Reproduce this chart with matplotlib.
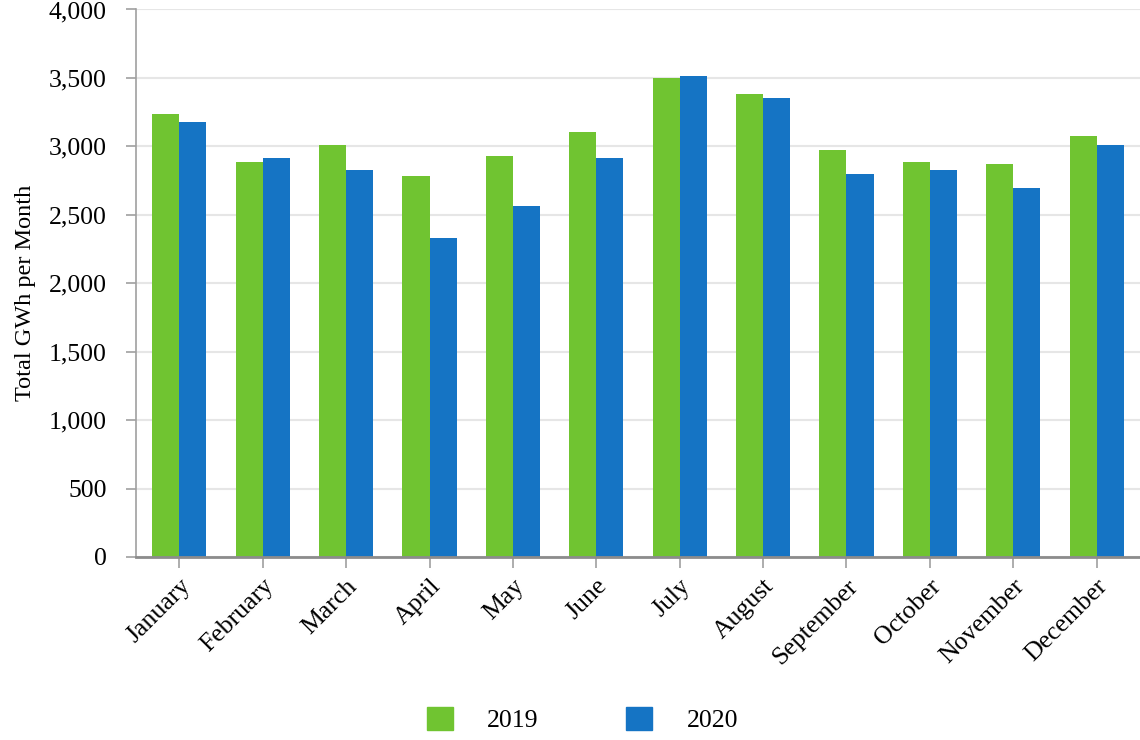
import numpy as np
import matplotlib.pyplot as plt
import matplotlib.transforms as mtransforms
from matplotlib.patches import Patch

# monthly totals
months = ['January', 'February', 'March', 'April', 'May', 'June',
          'July', 'August', 'September', 'October', 'November', 'December']
gwh_2019 = [3234, 2883, 3013, 2781, 2927, 3102, 3497, 3380, 2971, 2883, 2869, 3073]
gwh_2020 = [3175, 2912, 2825, 2328, 2562, 2912, 3511, 3351, 2796, 2825, 2693, 3013]
years = ['2019', '2020']

green = '#70c431'
blue = '#1574c4'

plt.rcParams['font.family'] = ['Liberation Serif', 'DejaVu Serif']
plt.rcParams['font.size'] = 18.5

fig = plt.figure(figsize=(11.4, 7.4), dpi=100)
ax = fig.add_axes([0.1193, 0.2473, 0.8807, 0.7399])

x = np.arange(len(months))
w = 0.325
ax.bar(x - w / 2, gwh_2019, width=w, color=green, zorder=2)
ax.bar(x + w / 2, gwh_2020, width=w, color=blue, zorder=2)

ax.set_xlim(-0.52, 11.52)
ax.set_ylim(0, 4000)
ax.set_yticks(np.arange(0, 4001, 500))
ax.set_yticklabels([f'{v:,}' for v in range(0, 4001, 500)])
ax.grid(axis='y', color='#e6e6e6', linewidth=1.5, zorder=0)

ax.set_xticks(x)
ax.set_xticklabels(months, rotation=45, ha='right', va='top', rotation_mode='anchor')
# nudge the rotated labels a little to the left
shift = mtransforms.ScaledTranslation(-5 / 100, -2 / 100, fig.dpi_scale_trans)
for lbl in ax.get_xticklabels():
    lbl.set_transform(lbl.get_transform() + shift)

for side in ['top', 'right']:
    ax.spines[side].set_visible(False)
ax.spines['left'].set_color('#a0a0a0')
ax.spines['left'].set_linewidth(1.2)
ax.spines['bottom'].set_color('#8c8c8c')
ax.spines['bottom'].set_linewidth(2)
ax.tick_params(axis='y', length=7, width=1.2, color='#a0a0a0', pad=14)
ax.tick_params(axis='x', length=8, width=1.2, color='#a0a0a0', pad=5)

ax.set_ylabel('Total GWh per Month', fontsize=17.5)
ax.yaxis.set_label_coords(-0.1, 0.482)

handles = [Patch(color=green), Patch(color=blue)]
fig.legend(handles, years, loc='center', bbox_to_anchor=(0.511, 0.028), ncol=2,
           frameon=False, handlelength=1.0, handleheight=1.0,
           handletextpad=1.35, columnspacing=3.4)

fig.savefig('out.png', dpi=100)
